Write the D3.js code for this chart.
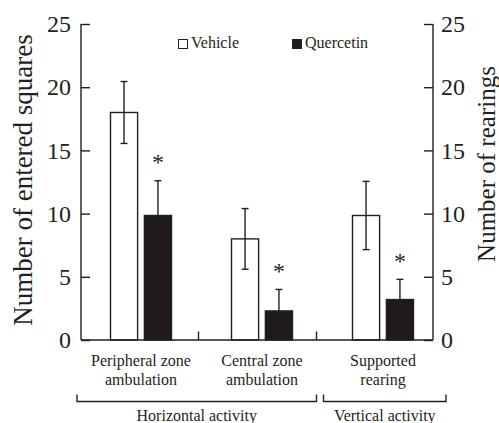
<!DOCTYPE html>
<html><head><meta charset="utf-8">
<script src="https://cdn.jsdelivr.net/npm/d3@7"></script>
<style>body{margin:0;background:#fff}svg{display:block}</style>
</head><body>
<svg id="c" width="499" height="423"></svg>
<script>
const categories = [["Peripheral zone","ambulation"],["Central zone","ambulation"],["Supported","rearing"]];
const seriesNames = ["Vehicle","Quercetin"];
const vehicle = [18.0, 8.0, 9.85];
const vehicleErr = [2.45, 2.4, 2.7];
const quercetin = [9.85, 2.3, 3.2];
const quercetinErr = [2.75, 1.7, 1.6];
const significant = [true, true, true];
const yTicks = [0,5,10,15,20,25];
const groupLabels = ["Horizontal activity","Vertical activity"];
const yLabelLeft = "Number of entered squares";
const yLabelRight = "Number of rearings";

const svg = d3.select("#c");
const ink = "#231f20";
const FF = '"Liberation Serif"';
const L = 81, R = 433, T = 24, B = 340;
function txt(sel, size){ return sel.style("font-family",FF).style("font-size",size+"px").style("fill",ink); }

const y = d3.scaleLinear().domain([0,25]).range([B,T]);
const x = d3.scaleBand().domain(d3.range(categories.length)).range([80.5,443.5]).paddingInner(0).paddingOuter(0);
const xs = d3.scaleBand().domain(seriesNames).range([-30.5,30.5]).paddingInner(0.2);

// axes
const gl = svg.append("g").attr("transform",`translate(${L},0)`)
  .call(d3.axisRight(y).tickValues(yTicks).tickSize(9).tickFormat(""));
const gr = svg.append("g").attr("transform",`translate(${R},0)`)
  .call(d3.axisLeft(y).tickValues(yTicks).tickSize(9).tickFormat(""));
[gl,gr].forEach(g=>{
  g.select(".domain").remove();
  g.selectAll("text").remove();
  g.selectAll("line").attr("stroke",ink).attr("stroke-width",1.4);
});
svg.append("line").attr("x1",L).attr("x2",L).attr("y1",T).attr("y2",B).attr("stroke",ink).attr("stroke-width",1.4);
svg.append("line").attr("x1",R).attr("x2",R).attr("y1",T).attr("y2",B).attr("stroke",ink).attr("stroke-width",1.4);
svg.append("line").attr("x1",L).attr("x2",R).attr("y1",B).attr("y2",B).attr("stroke",ink).attr("stroke-width",1.4);

// tick labels
txt(svg.selectAll(".tl").data(yTicks).enter().append("text")
  .attr("x",71).attr("y",d=>y(d)).attr("dy","0.34em").attr("text-anchor","end"),24).text(d=>d);
txt(svg.selectAll(".tr").data(yTicks).enter().append("text")
  .attr("x",441).attr("y",d=>y(d)).attr("dy","0.34em").attr("text-anchor","start"),24).text(d=>d);

// y labels
txt(svg.append("text").attr("transform",`translate(32,180) rotate(-90)`).attr("text-anchor","middle"),27).text(yLabelLeft);
txt(svg.append("text").attr("transform",`translate(495,164) rotate(-90)`).attr("text-anchor","middle"),25).text(yLabelRight);

// bars
const data = [];
categories.forEach((c,i)=>{
  data.push({g:i,s:"Vehicle",v:vehicle[i],e:vehicleErr[i],star:false});
  data.push({g:i,s:"Quercetin",v:quercetin[i],e:quercetinErr[i],star:significant[i]});
});
const cx = d => x(d.g)+x.bandwidth()/2 + xs(d.s) + xs.bandwidth()/2;

const eb = svg.append("g");
data.forEach(d=>{
  const c = cx(d);
  eb.append("line").attr("x1",c).attr("x2",c).attr("y1",y(d.v+d.e)).attr("y2",y(d.v-d.e)).attr("stroke",ink).attr("stroke-width",1.4);
  eb.append("line").attr("x1",c-3.5).attr("x2",c+3.5).attr("y1",y(d.v+d.e)).attr("y2",y(d.v+d.e)).attr("stroke",ink).attr("stroke-width",1.4);
  eb.append("line").attr("x1",c-3.5).attr("x2",c+3.5).attr("y1",y(d.v-d.e)).attr("y2",y(d.v-d.e)).attr("stroke",ink).attr("stroke-width",1.4);
});
svg.selectAll(".bar").data(data).enter().append("rect")
  .attr("x",d=>cx(d)-xs.bandwidth()/2).attr("width",xs.bandwidth())
  .attr("y",d=>y(d.v)).attr("height",d=>y(0)-y(d.v))
  .attr("fill",d=>d.s==="Vehicle"?"none":"#1f1b1c")
  .attr("stroke",ink).attr("stroke-width",1.4);
txt(svg.selectAll(".star").data(data.filter(d=>d.star)).enter().append("text")
  .attr("x",d=>cx(d)).attr("y",d=>y(d.v+d.e)-19).attr("dy","0.36em").attr("text-anchor","middle"),24).text("*");

// group dividers on x axis
const dividers = [x(1)-3, x(2)-6];
dividers.forEach(dx=>{
  svg.append("line").attr("x1",dx).attr("x2",dx).attr("y1",B).attr("y2",B-8.5).attr("stroke",ink).attr("stroke-width",1.4);
});

// category labels
categories.forEach((c,i)=>{
  const t = txt(svg.append("text").attr("text-anchor","middle"),16);
  c.forEach((line,j)=>t.append("tspan").attr("x",x(i)+x.bandwidth()/2).attr("y",366+j*19).text(line));
});

// brackets
const by = 401.5, bh = 7;
const brackets = [[L-4, dividers[1]], [dividers[1]+7, R+13]];
brackets.forEach((b,i)=>{
  svg.append("path").attr("d",`M${b[0]},${by-bh}V${by}H${b[1]}V${by-bh}`).attr("fill","none").attr("stroke",ink).attr("stroke-width",1.4);
  txt(svg.append("text").attr("x",(b[0]+b[1])/2).attr("y",421).attr("text-anchor","middle"),16).text(groupLabels[i]);
});

// legend
const legX = [178, 292];
seriesNames.forEach((s,i)=>{
  svg.append("rect").attr("x",legX[i]+0.5).attr("y",39.5).attr("width",9).attr("height",9)
    .attr("fill",i===0?"#fff":"#1f1b1c").attr("stroke",ink).attr("stroke-width",1);
  txt(svg.append("text").attr("x",legX[i]+13).attr("y",48),16).text(s);
});
</script>
</body></html>
